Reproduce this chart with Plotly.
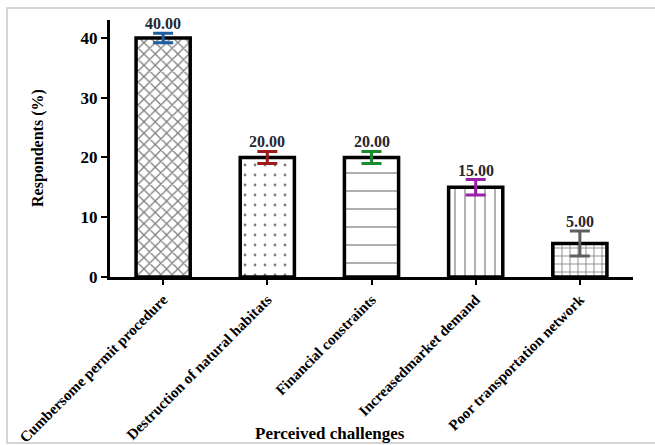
import plotly.graph_objects as go

categories = ["Cumbersome permit procedure", "Destruction of natural habitats",
              "Financial constraints", "Increasedmarket demand", "Poor transportation network"]
values = [40.0, 20.0, 20.0, 15.0, 5.6]
errors = [0.8, 1.0, 1.0, 1.3, 2.1]
value_labels = ["40.00", "20.00", "20.00", "15.00", "5.00"]
patterns = ["x", ".", "-", "|", "+"]
pattern_sizes = [8, 10, 18, 10, 8]
pattern_solidity = [0.3, 0.06, 0.07, 0.12, 0.2]
err_colors = ["#1f5e9e", "#9e1b1b", "#1b8a2e", "#9a1fa8", "#5f5f5f"]
y_ticks = [0, 10, 20, 30, 40]

FONT = "Liberation Serif"
L, R, T, B = 110, 22, 20, 168
PW, PH = 655 - L - R, 445 - T - B

fig = go.Figure()
fig.add_trace(go.Bar(
    x=categories, y=values, width=0.52,
    marker=dict(color="white",
                line=dict(color="black", width=3.5),
                pattern=dict(shape=patterns, size=pattern_sizes, solidity=pattern_solidity,
                             fgcolor="black", bgcolor="white", fillmode="overlay")),
    showlegend=False, hoverinfo="skip",
))
for c, v, e, col in zip(categories, values, errors, err_colors):
    fig.add_trace(go.Scatter(
        x=[c], y=[v], mode="markers", marker=dict(size=1, color="rgba(0,0,0,0)"),
        error_y=dict(type="data", array=[e], color=col, thickness=3, width=10),
        showlegend=False, hoverinfo="skip",
    ))
for c, v, e, t in zip(categories, values, errors, value_labels):
    fig.add_annotation(x=c, y=v + e, text="<b>%s</b>" % t, showarrow=False,
                       yanchor="bottom", yshift=-1,
                       font=dict(family=FONT, size=16, color="#262630"))

# axis titles
fig.add_annotation(xref="paper", yref="paper", x=(38 - L) / PW, y=(277 - 148) / PH,
                   text="<b>Respondents (%)</b>", textangle=-90, showarrow=False,
                   xanchor="center", yanchor="middle",
                   font=dict(family=FONT, size=16, color="black"))
fig.add_annotation(xref="paper", yref="paper", x=(330 - L) / PW, y=-(433 - 277) / PH,
                   text="<b>Perceived challenges</b>", showarrow=False,
                   xanchor="center", yanchor="middle",
                   font=dict(family=FONT, size=17, color="black"))

fig.add_shape(type="rect", xref="paper", yref="paper",
              x0=(7 - L) / PW, x1=(660 - L) / PW, y0=-(443 - 277) / PH, y1=(277 - 8) / PH,
              line=dict(color="#c8c8c8", width=1.5), layer="below")

fig.update_layout(
    width=655, height=445,
    margin=dict(l=L, r=R, t=T, b=B, autoexpand=False),
    paper_bgcolor="white", plot_bgcolor="white",
    font=dict(family=FONT, color="black"),
    xaxis=dict(
        type="category", range=[-0.51, 4.51], automargin=False,
        showline=True, linecolor="black", linewidth=3,
        ticks="outside", ticklen=5, tickwidth=1.5, tickcolor="black",
        tickangle=-45, tickfont=dict(family=FONT, size=15, color="black", weight="bold"),
        showgrid=False, zeroline=False,
    ),
    yaxis=dict(
        range=[0, 43], tickvals=y_ticks, automargin=False,
        showline=True, linecolor="black", linewidth=3,
        ticks="outside", ticklen=6, tickwidth=2, tickcolor="black",
        tickfont=dict(family=FONT, size=17, color="black", weight="bold"),
        showgrid=False, zeroline=False,
    ),
)

fig.write_html("out.html", config={"displayModeBar": False},
               post_script="document.body.style.margin='0';document.body.style.overflow='hidden';")
